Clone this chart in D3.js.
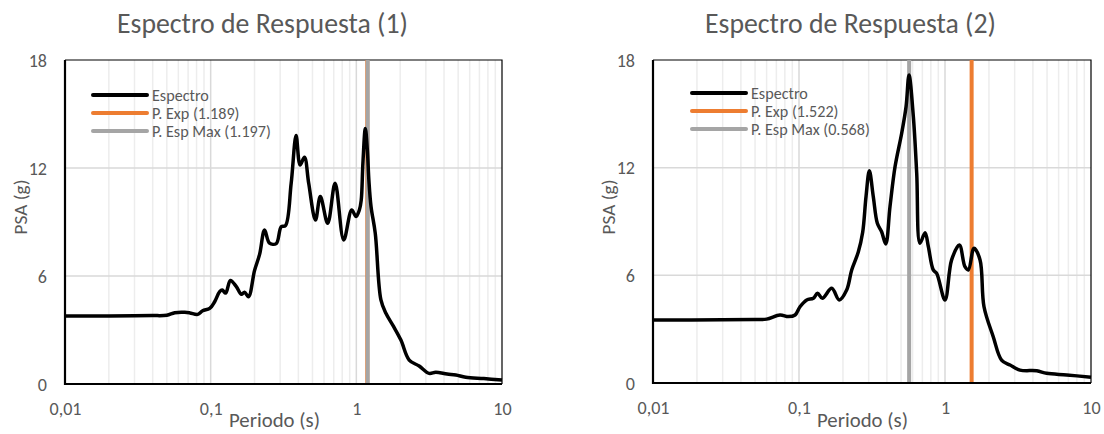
<!DOCTYPE html>
<html><head><meta charset="utf-8">
<script src="https://cdn.jsdelivr.net/npm/d3@7"></script>
<style>
html,body{margin:0;padding:0;background:#fff;}
svg{display:block;font-family:Carlito,Calibri,Lato,sans-serif;}
</style></head>
<body><svg id="c" width="1104" height="434"></svg>
<script>
// ---- data ----
const titles = ["Espectro de Respuesta (1)", "Espectro de Respuesta (2)"];
const xTickValues = [0.01, 0.1, 1, 10];
const xTickLabels = ["0,01", "0,1", "1", "10"];
const yTickValues = [0, 6, 12, 18];
const xLabel = "Periodo (s)";
const yLabel = "PSA (g)";
const seriesNames = ["Espectro", "P. Exp", "P. Esp Max"];

const periods1 = [0.01,0.02,0.03,0.04,0.05,0.0567,0.0664,0.072,0.0815,0.0881,0.0985,0.1065,0.1153,0.12,0.1268,0.1365,0.150,0.1623,0.171,0.182,0.200,0.2167,0.2344,0.2535,0.2818,0.305,0.3263,0.357,0.386,0.411,0.4405,0.471,0.524,0.566,0.636,0.715,0.819,0.929,0.995,1.049,1.08,1.11,1.153,1.19,1.22,1.262,1.349,1.475,1.596,1.8,2.023,2.306,2.7,3.16,3.51,4.2,4.82,5.64,7.5,10];
const psa1 =    [3.78,3.78,3.79,3.80,3.82,3.96,3.98,3.95,3.87,4.07,4.2,4.57,5.13,5.22,5.05,5.75,5.41,4.98,5.1,4.85,6.3,7.2,8.55,7.83,7.8,8.74,8.8,11.15,13.8,12.17,12.6,11.15,9.11,10.41,8.93,11.15,8.0,9.67,9.3,9.67,10.2,12.3,14.2,13.0,11.3,9.85,8.37,4.67,3.93,3.2,2.44,1.33,1.0,0.59,0.65,0.55,0.5,0.37,0.3,0.22];

const periods2 = [0.01,0.03,0.05,0.06,0.0741,0.0845,0.094,0.1016,0.113,0.1254,0.134,0.1445,0.1675,0.1888,0.212,0.2296,0.2547,0.273,0.2877,0.3033,0.3228,0.344,0.368,0.393,0.42,0.455,0.505,0.541,0.567,0.607,0.64,0.674,0.73,0.769,0.831,0.877,1.0,1.11,1.254,1.37,1.445,1.58,1.738,1.85,2.14,2.44,2.79,3.26,4.25,4.97,6.82,10];
const psa2 =     [3.51,3.52,3.54,3.56,3.79,3.70,3.79,4.25,4.63,4.72,5.0,4.72,5.28,4.63,5.18,6.3,7.3,8.4,10.38,11.83,10.38,8.9,8.43,7.75,9.83,12.06,13.92,15.4,17.17,14.84,11.69,7.79,8.38,7.6,6.3,6.11,4.63,6.86,7.69,6.48,6.3,7.51,6.86,4.25,2.58,1.28,1.0,0.72,0.68,0.54,0.45,0.32];

const pExp = [1.189, 1.522];
const pMax = [1.197, 0.568];

// ---- layout ----
const svg = d3.select("#c");
const charts = [
  {x0:65, x1:502, y0:60, y1:384, periods:periods1, psa:psa1, legX:93, legY:95, labX:20},
  {x0:653, x1:1091, y0:60, y1:383, periods:periods2, psa:psa2, legX:692, legY:93, labX:608}
];
const txt = "#595959";

function fitSize(text, target, base) {
  const t = svg.append("text").attr("font-size", base).text(text);
  const w = t.node().getComputedTextLength();
  t.remove();
  return base * target / w;
}
const tickSize = fitSize("0,01", 32, 16);
const titleSize = fitSize(titles[0], 291, 20);
const xLabSize = fitSize(xLabel, 91, 16);
const yLabSize = fitSize(yLabel, 55, 16);
const legSize = fitSize("P. Esp Max (1.197)", 119, 13);

charts.forEach((c, i) => {
  const g = svg.append("g");
  const x = d3.scaleLog().domain([0.01, 10]).range([c.x0, c.x1]);
  const y = d3.scaleLinear().domain([0, 18]).range([c.y1, c.y0]);

  // minor vertical gridlines
  const minor = [];
  [0.01, 0.1, 1].forEach(d => { for (let k = 2; k <= 9; k++) minor.push(d * k); });
  g.append("g").selectAll("line").data(minor).join("line")
    .attr("x1", d => x(d)).attr("x2", d => x(d)).attr("y1", c.y0).attr("y2", c.y1)
    .attr("stroke", "#EDEDED").attr("stroke-width", 1.5);
  g.append("g").selectAll("line").data([0.1, 1]).join("line")
    .attr("x1", d => x(d)).attr("x2", d => x(d)).attr("y1", c.y0).attr("y2", c.y1)
    .attr("stroke", "#D9D9D9").attr("stroke-width", 1.5);
  g.append("g").selectAll("line").data([6, 12]).join("line")
    .attr("x1", c.x0).attr("x2", c.x1).attr("y1", d => y(d)).attr("y2", d => y(d))
    .attr("stroke", "#D9D9D9").attr("stroke-width", 1.5);

  // border top/right
  g.append("path").attr("d", `M${c.x0},${c.y0}H${c.x1}V${c.y1}`)
    .attr("fill", "none").attr("stroke", "#000").attr("stroke-width", 1.2);

  // vertical markers
  g.append("line").attr("x1", x(pExp[i])).attr("x2", x(pExp[i])).attr("y1", c.y0).attr("y2", c.y1)
    .attr("stroke", "#ED7D31").attr("stroke-width", 4);
  g.append("line").attr("x1", x(pMax[i])).attr("x2", x(pMax[i])).attr("y1", c.y0).attr("y2", c.y1)
    .attr("stroke", "#A5A5A5").attr("stroke-width", 4);

  // spectrum
  const pts = c.periods.map((p, k) => [p, c.psa[k]]);
  g.append("path").datum(pts)
    .attr("d", d3.line().x(d => x(d[0])).y(d => y(d[1])).curve(d3.curveCatmullRom.alpha(0.5)))
    .attr("fill", "none").attr("stroke", "#000").attr("stroke-width", 3.5)
    .attr("stroke-linejoin", "round");

  // axes lines (left & bottom)
  g.append("path").attr("d", `M${c.x0},${c.y0}V${c.y1}H${c.x1}`)
    .attr("fill", "none").attr("stroke", "#000").attr("stroke-width", 2.2);

  // x axis labels
  const xa = g.append("g").attr("transform", `translate(0,${c.y1})`)
    .call(d3.axisBottom(x).tickValues(xTickValues).tickFormat((d, k) => xTickLabels[k]).tickSize(0).tickPadding(0));
  xa.select(".domain").remove();
  xa.attr("font-family", null);
  xa.selectAll("text").attr("font-size", tickSize).attr("fill", txt)
    .attr("dy", null).attr("y", 31);

  // y axis labels
  const ya = g.append("g").attr("transform", `translate(${c.x0},0)`)
    .call(d3.axisLeft(y).tickValues(yTickValues).tickFormat(d3.format("d")).tickSize(0).tickPadding(0));
  ya.select(".domain").remove();
  ya.attr("font-family", null);
  ya.selectAll("text").attr("font-size", tickSize).attr("fill", txt)
    .attr("x", -18).attr("dy", "0.35em");

  // title
  g.append("text").attr("x", (c.x0 - 65) + 262.5).attr("y", 33).attr("text-anchor", "middle")
    .attr("font-size", titleSize).attr("font-weight", 300).attr("fill", txt).text(titles[i]);
  // axis titles
  g.append("text").attr("x", (c.x0 - 65) + 274.5).attr("y", 427).attr("text-anchor", "middle")
    .attr("font-size", xLabSize).attr("fill", txt).text(xLabel);
  g.append("text").attr("transform", `translate(${c.labX},207) rotate(-90)`).attr("text-anchor", "middle")
    .attr("dy", "0.35em").attr("font-size", yLabSize).attr("fill", txt).text(yLabel);

  // legend
  const legLabels = [seriesNames[0], `${seriesNames[1]} (${pExp[i].toFixed(3)})`, `${seriesNames[2]} (${pMax[i].toFixed(3)})`];
  const legColors = ["#000", "#ED7D31", "#A5A5A5"];
  legLabels.forEach((lab, k) => {
    const yy = c.legY + k * 18;
    g.append("line").attr("x1", c.legX).attr("x2", c.legX + 54).attr("y1", yy).attr("y2", yy)
      .attr("stroke", legColors[k]).attr("stroke-width", 4).attr("stroke-linecap", "round");
    g.append("text").attr("x", c.legX + 59).attr("y", yy).attr("dy", "0.35em")
      .attr("font-size", legSize).attr("fill", txt).text(lab);
  });
});
</script></body></html>
